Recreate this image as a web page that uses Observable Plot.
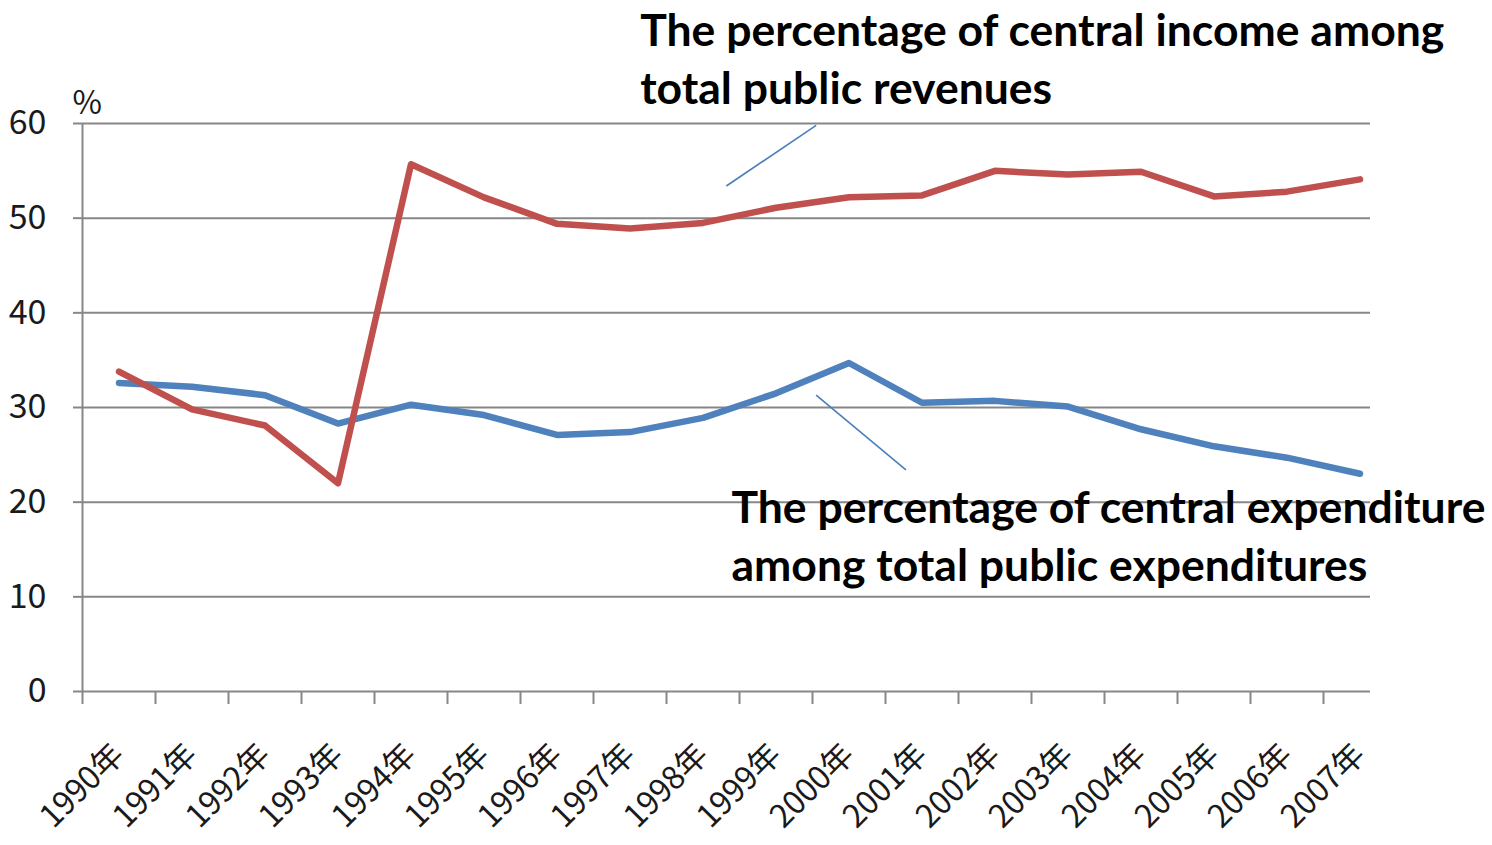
<!DOCTYPE html>
<html>
<head>
<meta charset="utf-8">
<script src="https://cdn.jsdelivr.net/npm/d3@7"></script>
<script src="https://cdn.jsdelivr.net/npm/@observablehq/plot@0.6"></script>
<style>
  html, body { margin: 0; padding: 0; background: #ffffff; }
  #chart svg { display: block; }
</style>
</head>
<body>
<div id="chart"></div>
<script>
// Central government shares of China's public finances, 1990–2007 (%)
const years = [1990, 1991, 1992, 1993, 1994, 1995, 1996, 1997, 1998, 1999, 2000, 2001, 2002, 2003, 2004, 2005, 2006, 2007];
const incomeShare = [33.8, 29.8, 28.1, 22.0, 55.7, 52.2, 49.4, 48.9, 49.5, 51.1, 52.2, 52.4, 55.0, 54.6, 54.9, 52.3, 52.8, 54.1];
const expenditureShare = [32.6, 32.2, 31.3, 28.3, 30.3, 29.2, 27.1, 27.4, 28.9, 31.5, 34.7, 30.5, 30.7, 30.1, 27.7, 25.9, 24.7, 23.0];
const yTicks = [0, 10, 20, 30, 40, 50, 60];
const yUnit = "%";
const yearSuffix = "年";

const incomeLabel = ["The percentage of central income among", "total public revenues"];
const expenditureLabel = ["The percentage of central expenditure", "among total public expenditures"];

// Callout anchors, in data units (year, percent)
const incomeNote = {x: 1997.14, y: 72.5, x1: 1998.32, y1: 53.4, x2: 1999.55, y2: 59.8};
const expenditureNote = {x: 1998.39, y: 22.1, x1: 1999.55, y1: 31.3, x2: 2000.78, y2: 23.4};

const rows = years.map((year, i) => ({year, income: incomeShare[i], expenditure: expenditureShare[i]}));
// category boundaries carry the x-axis tick marks
const boundaries = years.map(y => y - 0.5);

const gray = "#878787";
const red = "#C0504D";
const blue = "#4F81BD";
const axisFont = "'Liberation Sans Narrow', 'Noto Sans CJK SC', sans-serif";
const noteFont = "Lato, 'Open Sans', sans-serif";

const chart = Plot.plot({
  width: 1492,
  height: 845,
  marginLeft: 82,
  marginRight: 122,
  marginTop: 123,
  marginBottom: 154,
  style: {background: "#ffffff", color: "#1a1a1a"},
  // the last year's category runs past the drawn frame edge
  x: {type: "linear", domain: [years[0] - 0.5, years[years.length - 1] + 0.5], range: [82, 1396]},
  y: {domain: [0, 60]},
  marks: [
    Plot.gridY(yTicks, {stroke: gray, strokeOpacity: 1, strokeWidth: 2}),
    Plot.ruleX([boundaries[0]], {stroke: gray, strokeWidth: 2}),
    Plot.axisY(yTicks, {
      tickSize: 9, tickPadding: 27, stroke: gray, strokeWidth: 2, fill: "#1a1a1a",
      fontSize: 34, fontFamily: axisFont, label: null
    }),
    Plot.text([yUnit], {frameAnchor: "top-left", dx: -10, dy: -10, fontSize: 32, fontFamily: axisFont, fill: "#1a1a1a", textAnchor: "start", lineAnchor: "bottom"}),
    Plot.axisX(boundaries, {tickSize: 13, tickFormat: () => "", stroke: gray, strokeWidth: 2, label: null}),
    Plot.axisX(years, {
      tickSize: 0, tickPadding: 58, tickRotate: -45, tickFormat: d => d + yearSuffix,
      fontSize: 32, fontFamily: axisFont, fill: "#1a1a1a", label: null
    }),
    Plot.lineY(rows, {x: "year", y: "expenditure", stroke: blue, strokeWidth: 6.5, strokeLinejoin: "round", strokeLinecap: "round"}),
    Plot.lineY(rows, {x: "year", y: "income", stroke: red, strokeWidth: 6.5, strokeLinejoin: "round", strokeLinecap: "round"}),
    Plot.link([incomeNote, expenditureNote], {x1: "x1", y1: "y1", x2: "x2", y2: "y2", stroke: "#4A7EBB", strokeWidth: 1.6}),
    Plot.text([incomeNote], {
      x: "x", y: "y", text: () => incomeLabel.join("\n"), textAnchor: "start", lineAnchor: "top",
      lineHeight: 1.3, fontSize: 44.5, fontWeight: "bold", fontFamily: noteFont, fill: "#000000"
    }),
    Plot.text([expenditureNote], {
      x: "x", y: "y", text: () => expenditureLabel.join("\n"), textAnchor: "start", lineAnchor: "top",
      lineHeight: 1.3, fontSize: 44.5, fontWeight: "bold", fontFamily: noteFont, fill: "#000000"
    })
  ]
});

document.getElementById("chart").appendChild(chart);
</script>
</body>
</html>
